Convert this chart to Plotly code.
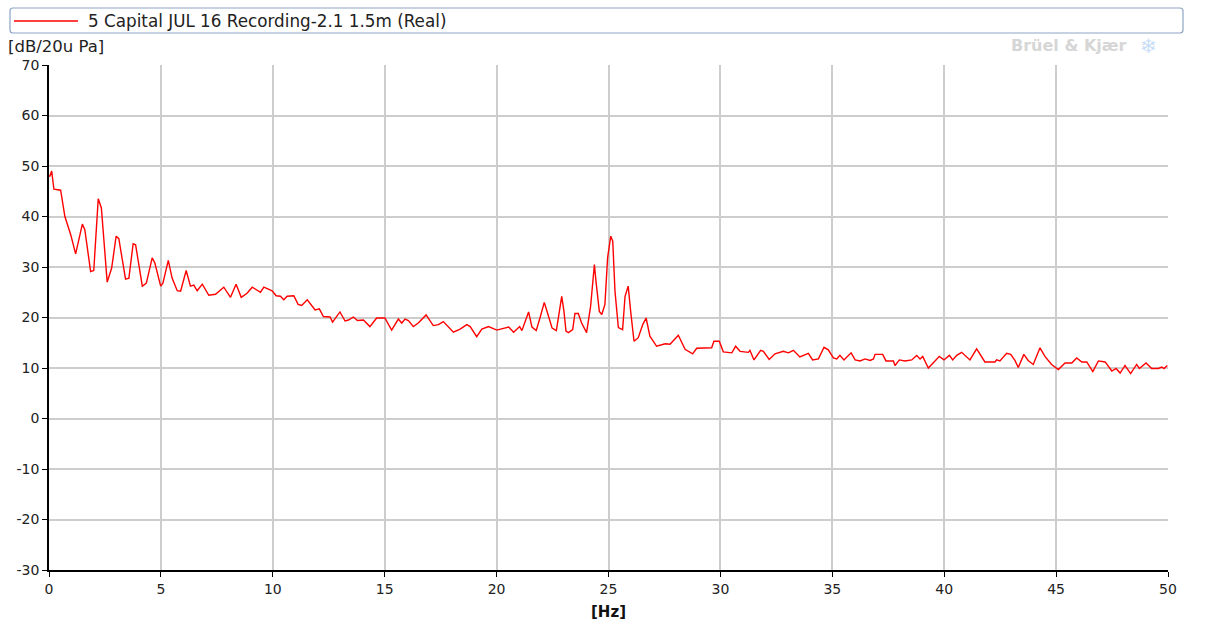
import plotly.graph_objects as go

series_name = "5 Capital JUL 16 Recording-2.1 1.5m (Real)"
y_unit = "[dB/20u Pa]"
x_unit = "[Hz]"
brand = "Brüel & Kjær"

freq_hz = [
    0.0, 0.04, 0.12, 0.22, 0.52, 0.71, 0.97, 1.19, 1.49, 1.6,
    1.86, 2.0, 2.2, 2.34, 2.6, 2.8, 3.0, 3.12, 3.42, 3.57,
    3.76, 3.87, 4.17, 4.35, 4.61, 4.73, 4.99, 5.09, 5.33, 5.5,
    5.73, 5.88, 6.13, 6.32, 6.47, 6.62, 6.85, 7.14, 7.44, 7.81,
    8.11, 8.36, 8.59, 8.85, 9.08, 9.45, 9.6, 9.97, 10.15, 10.34,
    10.49, 10.64, 10.94, 11.13,
    11.29, 11.54, 11.89, 12.08, 12.26, 12.56, 12.67, 13.0, 13.23, 13.38,
    13.6, 13.78, 14.05, 14.34, 14.64, 15.01, 15.31, 15.61, 15.76, 15.91,
    16.06, 16.28, 16.5, 16.85, 17.17, 17.4, 17.62, 18.07, 18.37, 18.67,
    18.82, 19.11, 19.34, 19.64, 20.01, 20.24, 20.54, 20.76, 21.03, 21.13,
    21.43, 21.58, 21.77, 21.95, 22.13, 22.33, 22.48, 22.67,
    22.91, 23.01, 23.10, 23.21, 23.40, 23.50, 23.65, 23.80, 24.02, 24.20,
    24.32, 24.37, 24.44, 24.59, 24.70, 24.84, 24.96, 25.10, 25.19, 25.29,
    25.44, 25.63, 25.74, 25.88, 25.99, 26.14, 26.33, 26.53, 26.68, 26.85,
    27.15, 27.53, 27.75, 28.12, 28.42, 28.76, 28.94, 29.39, 29.61, 29.71,
    29.95, 30.13, 30.51, 30.68,
    30.88, 31.25, 31.32, 31.50, 31.80, 31.92, 32.18, 32.44, 32.81, 33.04,
    33.26, 33.55, 33.93, 34.12, 34.38, 34.63, 34.82, 35.05, 35.20, 35.34,
    35.52, 35.84, 36.02, 36.24, 36.46, 36.69, 36.84, 36.91, 37.25, 37.40,
    37.73, 37.80, 38.00, 38.25, 38.55, 38.77, 38.92, 39.04, 39.29, 39.59,
    39.78, 39.99, 40.23, 40.38, 40.56, 40.78, 41.15, 41.45, 41.63, 41.82,
    42.27, 42.34, 42.49, 42.79, 42.97, 43.16, 43.31, 43.56, 43.75, 43.98,
    44.28, 44.50, 44.80, 45.10, 45.40, 45.70, 45.92, 46.15, 46.37, 46.64,
    46.89, 47.19, 47.49, 47.68, 47.86, 48.08, 48.33, 48.60, 48.72, 49.02,
    49.27, 49.57, 49.72, 49.82, 49.97,
]

level_db = [
    48.0, 48.0, 49.0, 45.4, 45.2, 40.0, 36.4, 32.6, 38.5, 37.4,
    29.1, 29.3, 43.5, 41.7, 27.0, 29.8, 36.1, 35.6, 27.6, 27.8,
    34.6, 34.4, 26.2, 26.8, 31.8, 30.8, 26.2, 26.8, 31.3, 27.8,
    25.3, 25.2, 29.3, 26.2, 26.4, 25.3, 26.6, 24.4, 24.6, 26.0,
    24.0, 26.6, 24.0, 24.8, 26.0, 25.0, 26.0, 25.3, 24.3, 24.2,
    23.5, 24.2, 24.3, 22.6,
    22.4, 23.5, 21.5, 21.7, 20.2, 20.1, 19.1, 21.1, 19.3, 19.5,
    20.1, 19.4, 19.5, 18.2, 19.9, 19.9, 17.5, 19.7, 18.9, 19.7,
    19.4, 18.2, 18.9, 20.5, 18.4, 18.6, 19.2, 17.1, 17.7, 18.6,
    18.2, 16.2, 17.7, 18.2, 17.5, 17.7, 18.1, 17.1, 18.2, 17.4,
    21.1, 18.1, 17.4, 20.1, 23.0, 20.1, 17.9, 17.4,
    24.2, 21.2, 17.3, 17.0, 17.6, 20.8, 20.8, 18.9, 17.0, 22.2,
    27.2, 30.5, 27.2, 21.2, 20.6, 22.6, 31.8, 36.1, 35.1, 25.2,
    18.0, 17.6, 24.2, 26.2, 21.2, 15.3, 16.0, 18.6, 19.9, 16.3,
    14.3, 14.8, 14.7, 16.5, 13.7, 12.8, 13.9, 14.0, 14.0, 15.3,
    15.3, 13.2, 13.0, 14.3,
    13.3, 13.1, 13.5, 11.6, 13.5, 13.3, 11.7, 12.8, 13.3, 13.0,
    13.5, 12.2, 12.9, 11.6, 11.8, 14.1, 13.6, 12.0, 11.8, 12.5,
    11.6, 13.0, 11.6, 11.4, 11.8, 11.5, 11.8, 12.7, 12.7, 11.4,
    11.4, 10.5, 11.6, 11.4, 11.6, 12.5, 11.8, 12.3, 10.0, 11.4,
    12.3, 11.6, 12.5, 11.6, 12.5, 13.1, 11.6, 13.8, 12.5, 11.2,
    11.2, 11.6, 11.4, 12.9, 12.7, 11.5, 10.1, 12.7, 11.5, 10.7,
    14.0, 12.3, 10.7, 9.7, 11.0, 11.0, 12.0, 11.2, 11.2, 9.3,
    11.4, 11.2, 9.4, 9.9, 9.0, 10.5, 8.9, 10.7, 9.9, 11.0,
    9.9, 9.9, 10.2, 9.9, 10.5,
]

x_ticks = [0, 5, 10, 15, 20, 25, 30, 35, 40, 45, 50]
y_ticks = [-30, -20, -10, 0, 10, 20, 30, 40, 50, 60, 70]

W, H = 1211, 627
L, R, T, B = 49, 1168, 65, 570


def px(xp):
    return (xp - L) / (R - L)


def py(yp):
    return (B - yp) / (B - T)


FONT = "DejaVu Sans"

fig = go.Figure()
fig.add_trace(go.Scatter(
    x=freq_hz, y=level_db, mode="lines", name=series_name,
    line=dict(color="#FF0000", width=1.4), showlegend=False,
))

# legend box (rounded rectangle)
x0, x1, y0, y1, r = 10, 1183, 8, 33, 3
path = (f"M {px(x0 + r)} {py(y0)} L {px(x1 - r)} {py(y0)} "
        f"Q {px(x1)} {py(y0)} {px(x1)} {py(y0 + r)} "
        f"L {px(x1)} {py(y1 - r)} Q {px(x1)} {py(y1)} {px(x1 - r)} {py(y1)} "
        f"L {px(x0 + r)} {py(y1)} Q {px(x0)} {py(y1)} {px(x0)} {py(y1 - r)} "
        f"L {px(x0)} {py(y0 + r)} Q {px(x0)} {py(y0)} {px(x0 + r)} {py(y0)} Z")
shapes = [
    dict(type="path", path=path, xref="paper", yref="paper",
         line=dict(color="#8DA5C4", width=1.2), fillcolor="rgba(0,0,0,0)", layer="above"),
    dict(type="line", xref="paper", yref="paper", x0=px(14), x1=px(78), y0=py(21), y1=py(21),
         line=dict(color="#FF0000", width=1.5)),
]

annotations = [
    dict(text=series_name, xref="paper", yref="paper", x=px(86), y=py(21),
         xanchor="left", yanchor="middle", showarrow=False,
         font=dict(family=FONT, size=16.8, color="#222222")),
    dict(text=y_unit, xref="paper", yref="paper", x=px(6), y=py(47),
         xanchor="left", yanchor="middle", showarrow=False,
         font=dict(family=FONT, size=16.5, color="#222222")),
    dict(text=f"<b>{x_unit}</b>", xref="paper", yref="paper", x=px(608), y=py(612),
         xanchor="center", yanchor="middle", showarrow=False,
         font=dict(family=FONT, size=15, color="#111111")),
    dict(text=f"<b>{x_unit}</b>", xref="paper", yref="paper", x=px(608), y=py(3),
         xanchor="center", yanchor="bottom", showarrow=False,
         font=dict(family=FONT, size=15, color="#111111")),
    dict(text=f"<b>{brand}</b>", xref="paper", yref="paper", x=px(1129), y=py(46),
         xanchor="right", yanchor="middle", showarrow=False,
         font=dict(family=FONT, size=16, color="#D6D6D6")),
    dict(text="❄", xref="paper", yref="paper", x=px(1148), y=py(46),
         xanchor="center", yanchor="middle", showarrow=False,
         font=dict(family=FONT, size=20, color="#C9DDF6")),
]

fig.update_layout(
    width=W, height=H,
    margin=dict(l=L, r=W - R, t=T, b=H - B, pad=0),
    paper_bgcolor="white", plot_bgcolor="white",
    shapes=shapes, annotations=annotations,
    xaxis=dict(range=[0, 50], tickvals=x_ticks, ticktext=[str(v) for v in x_ticks],
               showgrid=True, gridcolor="#CDCDCD", gridwidth=1.5,
               showline=True, linecolor="#000000", linewidth=1.5,
               ticks="outside", ticklen=5, tickcolor="#000000",
               tickfont=dict(family=FONT, size=14, color="#222222"),
               zeroline=False, fixedrange=True),
    yaxis=dict(range=[-30, 70], tickvals=y_ticks, ticktext=[str(v) for v in y_ticks],
               showgrid=True, gridcolor="#CDCDCD", gridwidth=1.5,
               showline=True, linecolor="#000000", linewidth=1.5,
               ticks="outside", ticklen=5, tickcolor="#000000",
               tickfont=dict(family=FONT, size=14, color="#222222"),
               zeroline=False, fixedrange=True),
)

fig.write_html("out.html", config={"displayModeBar": False},
               post_script="document.body.style.margin='0';document.body.style.overflow='hidden';")
